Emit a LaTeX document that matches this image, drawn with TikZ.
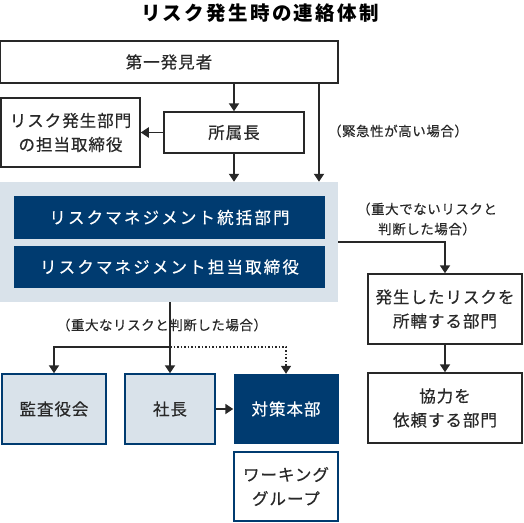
\documentclass[tikz,border=0pt]{standalone}
\usepackage{fontspec}
\setmainfont{Noto Sans CJK JP}
\usetikzlibrary{arrows.meta}
\definecolor{navy}{RGB}{0,59,112}
\definecolor{paleblue}{RGB}{217,226,234}
\definecolor{inkgray}{RGB}{40,40,40}

\tikzset{
  boxtext/.style={font=\fontsize{16.5}{24}\selectfont\addfontfeature{LetterSpace=6,FakeBold=0.4}, align=center, inner sep=0pt},
  plainbox/.style={boxtext, draw=inkgray, line width=1.5pt, fill=white, text=inkgray},
  palebox/.style={boxtext, draw=navy, line width=1.5pt, fill=paleblue, text=inkgray},
  navybox/.style={boxtext, fill=navy, text=white,
    font=\fontsize{16.5}{24}\selectfont\addfontfeature{LetterSpace=13,FakeBold=0.4}},
  note/.style={font=\fontsize{13.5}{20}\selectfont\addfontfeature{LetterSpace=4,FakeBold=0.3}, text=inkgray, align=center},
  flow/.style={draw=inkgray, line width=1.8pt, -{Triangle[width=10pt,length=8pt]}}
}

\begin{document}
\begin{tikzpicture}[x=1pt, y=-1pt]
\useasboundingbox (0,0) rectangle (524,522);

% title
\node (title) at (260,13) {\fontsize{19.5}{22}\selectfont\bfseries\addfontfeature{LetterSpace=12}リスク発生時の連絡体制};

% upper part
\node (first) [plainbox, minimum width=338, minimum height=42] at (169,62) {第一発見者};
\node (chief) [plainbox, minimum width=140, minimum height=41] at (234,132.5) {所属長};
\node (riskdept) [plainbox, minimum width=139, minimum height=69] at (70.5,132.5) {リスク発生部門\\の担当取締役};
\coordinate (urgent) at (319,0);
\node (urgentnote) [note] at (398,131) {（緊急性が高い場合）};

% risk management panel
\node (panel) [fill=paleblue, minimum width=338, minimum height=120] at (169,242) {};
\node (rmdept) [navybox, minimum width=311, minimum height=43] at (169.5,217.5) {リスクマネジメント統括部門};
\node (rmexec) [navybox, minimum width=311, minimum height=42] at (169.5,267) {リスクマネジメント担当取締役};

% right branch
\node (minornote) [note] at (427,219) {（重大でないリスクと\\判断した場合）};
\node (ownerdept) [plainbox, minimum width=154, minimum height=70] at (445,309) {発生したリスクを\\所轄する部門};
\node (helpdept) [plainbox, minimum width=154, minimum height=70] at (445,408) {協力を\\依頼する部門};

% bottom branch
\node (majornote) [note] at (162,325) {（重大なリスクと判断した場合）};
\node (audit) [palebox, minimum width=104, minimum height=70] at (54,409) {監査役会};
\node (president) [palebox, minimum width=90, minimum height=70] at (170,409) {社長};
\node (hq) [navybox, minimum width=105, minimum height=70,
  font=\fontsize{16.5}{24}\selectfont\addfontfeature{LetterSpace=6,FakeBold=0.4}] at (286,409) {対策本部};
\node (wg) [boxtext, draw=navy, line width=1.5pt, fill=white, text=inkgray,
  minimum width=104, minimum height=69] at (286,486.5) {ワーキング\\グループ};
\coordinate (fork) at (170,347);

% connectors
\draw[flow] (first.south -| chief.north) -- (chief.north);
\draw[flow] (chief.west) -- (riskdept.east);
\draw[flow] (chief.south) -- (chief.south |- panel.north);
\draw[flow] (first.south -| urgent) -- (urgent |- panel.north);
\draw[flow] (panel.east) -| (ownerdept.north);
\draw[flow] (ownerdept.south) -- (helpdept.north);
\draw[flow] (panel.south -| president.north) -- (president.north);
\draw[flow] (fork) -| (audit.north);
\draw[flow, line width=1.5pt, dotted] (fork) -| (hq.north);
\draw[flow] (president.east) -- (hq.west);
\end{tikzpicture}
\end{document}
